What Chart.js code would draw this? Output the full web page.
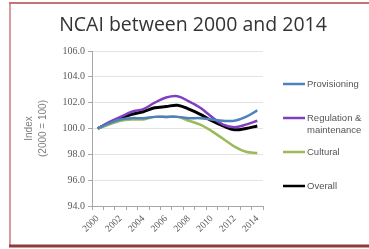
<!DOCTYPE html>
<html>
<head>
<meta charset="utf-8">
<script src="https://cdn.jsdelivr.net/npm/chart.js@4/dist/chart.umd.min.js"></script>
<style>
  html, body { margin: 0; padding: 0; background: #fff; }
  #wrap { width: 369px; height: 249px; }
</style>
</head>
<body>
<div id="wrap"><canvas id="ncai" width="369" height="249"></canvas></div>
<script>
'use strict';

// years on the x axis
const years = ['2000', '2001', '2002', '2003', '2004', '2005', '2006', '2007',
    '2008', '2009', '2010', '2011', '2012', '2013', '2014'];

// index values (2000 = 100)
const provisioning = [100.0, 100.4, 100.7, 100.8, 100.8, 100.9, 100.9, 100.9,
    100.8, 100.8, 100.7, 100.6, 100.6, 100.9, 101.4];
const regulation = [100.0, 100.5, 100.9, 101.3, 101.5, 102.0, 102.4, 102.5,
    102.1, 101.6, 100.9, 100.3, 100.1, 100.3, 100.6];
const cultural = [100.0, 100.3, 100.6, 100.7, 100.7, 100.9, 100.9, 100.9,
    100.6, 100.3, 99.8, 99.2, 98.6, 98.2, 98.1];
const overall = [100.0, 100.4, 100.8, 101.1, 101.3, 101.6, 101.7, 101.8,
    101.5, 101.1, 100.6, 100.2, 99.9, 100.0, 100.2];

const yMin = 94, yMax = 106, yStep = 2;

const titleText = 'NCAI between 2000 and 2014';

const seriesColors = {
    provisioning: '#4f81bd',
    regulation: '#7f3fbf',
    cultural: '#9bbb59',
    overall: '#000000'
};

// frame round the picture + the title
const framePlugin = {
    id: 'frame',
    beforeDraw: function (chart) {
        const ctx = chart.ctx;
        ctx.save();
        ctx.fillStyle = '#ffffff';
        ctx.fillRect(0, 0, chart.width, chart.height);
        ctx.strokeStyle = '#d99a9e';
        ctx.lineWidth = 2;
        ctx.beginPath();
        ctx.moveTo(10, 245);
        ctx.lineTo(10, 3);
        ctx.stroke();
        ctx.strokeStyle = '#c97275';
        ctx.beginPath();
        ctx.moveTo(9, 3);
        ctx.lineTo(chart.width, 3);
        ctx.stroke();
        ctx.strokeStyle = '#8e3b3b';
        ctx.lineWidth = 3;
        ctx.beginPath();
        ctx.moveTo(9, 246);
        ctx.lineTo(chart.width, 246);
        ctx.stroke();

        ctx.fillStyle = '#333333';
        ctx.font = '19.5px "Open Sans", "Liberation Sans", sans-serif';
        ctx.textAlign = 'center';
        ctx.textBaseline = 'middle';
        ctx.fillText(titleText, 193, 25);
        ctx.restore();
    }
};

// legend on the right, drawn by hand like the Excel one
const sideLegend = {
    id: 'sideLegend',
    afterDraw: function (chart) {
        const ctx = chart.ctx;
        const x0 = chart.chartArea.right + 20;
        const items = [
            { text: ['Provisioning'], color: seriesColors.provisioning, y: 84 },
            { text: ['Regulation &', 'maintenance'], color: seriesColors.regulation, y: 118 },
            { text: ['Cultural'], color: seriesColors.cultural, y: 152 },
            { text: ['Overall'], color: seriesColors.overall, y: 186 }
        ];
        ctx.save();
        ctx.font = '9.5px "Liberation Sans", Arial, sans-serif';
        ctx.textBaseline = 'middle';
        ctx.textAlign = 'left';
        items.forEach(function (it) {
            ctx.strokeStyle = it.color;
            ctx.lineWidth = 2.5;
            ctx.beginPath();
            ctx.moveTo(x0, it.y);
            ctx.lineTo(x0 + 22, it.y);
            ctx.stroke();
            ctx.fillStyle = '#555555';
            it.text.forEach(function (line, i) {
                ctx.fillText(line, x0 + 24, it.y + i * 12);
            });
        });
        ctx.restore();
    }
};

function lineSet(label, data, color, width) {
    return {
        label: label,
        data: data,
        borderColor: color,
        backgroundColor: color,
        borderWidth: width,
        pointRadius: 0,
        tension: 0.35,
        fill: false
    };
}

new Chart(document.getElementById('ncai'), {
    type: 'line',
    data: {
        labels: years,
        datasets: [
            lineSet('Provisioning', provisioning, seriesColors.provisioning, 2.5),
            lineSet('Cultural', cultural, seriesColors.cultural, 2.5),
            lineSet('Regulation & maintenance', regulation, seriesColors.regulation, 2.5),
            lineSet('Overall', overall, seriesColors.overall, 3)
        ]
    },
    options: {
        responsive: false,
        animation: false,
        devicePixelRatio: 1,
        layout: {
            padding: { left: 22, right: 106, top: 51, bottom: 6 }
        },
        scales: {
            x: {
                offset: true,
                grid: {
                    offset: true,
                    drawOnChartArea: false,
                    drawTicks: true,
                    tickLength: 4,
                    color: '#a6a6a6'
                },
                border: { color: '#a6a6a6' },
                ticks: {
                    autoSkip: false,
                    maxRotation: 45,
                    minRotation: 45,
                    padding: 3,
                    color: '#595959',
                    font: { family: '"Liberation Serif", "DejaVu Serif", serif', size: 9.5 },
                    callback: function (value, index) {
                        return index % 2 === 0 ? years[index] : '';
                    }
                },
                afterFit: function (scale) { scale.height = 37; }
            },
            y: {
                min: yMin,
                max: yMax,
                grid: {
                    color: '#e3e3e3',
                    drawTicks: true,
                    tickLength: 4,
                    tickColor: '#a6a6a6'
                },
                border: { color: '#a6a6a6' },
                ticks: {
                    stepSize: yStep,
                    padding: 3,
                    color: '#595959',
                    font: { family: '"Liberation Serif", "DejaVu Serif", serif', size: 10 },
                    callback: function (value) { return value.toFixed(1); }
                },
                title: {
                    display: true,
                    text: ['Index', '(2000 = 100)'],
                    color: '#7f7f7f',
                    padding: 0,
                    font: { family: '"Liberation Sans", Arial, sans-serif', size: 10, lineHeight: 1.4 }
                },
                afterFit: function (scale) { scale.width = 70; }
            }
        },
        plugins: {
            legend: { display: false },
            tooltip: { enabled: false },
            title: { display: false }
        }
    },
    plugins: [framePlugin, sideLegend]
});
</script>
</body>
</html>
